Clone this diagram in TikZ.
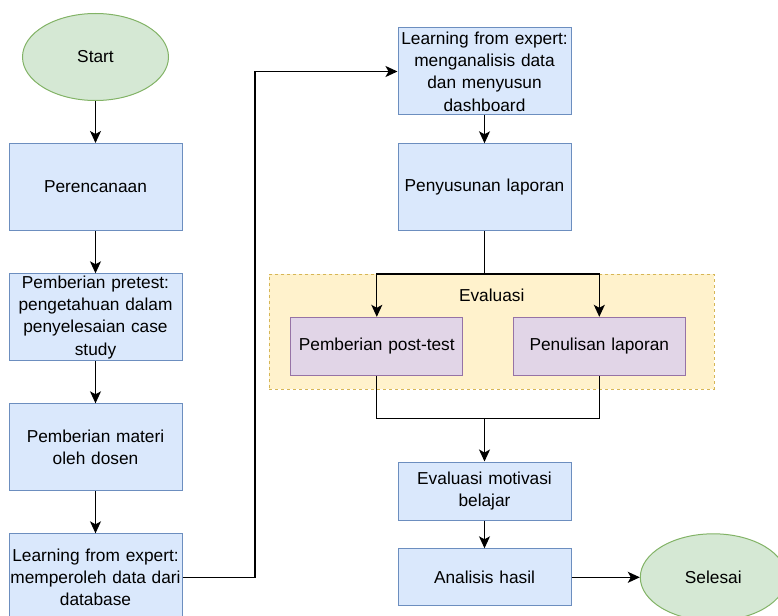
\documentclass[tikz,border=0pt]{standalone}
\usepackage{fontspec}
\setmainfont{Liberation Sans}
\usetikzlibrary{shapes.geometric,arrows.meta}
\definecolor{boxfill}{HTML}{DAE8FC}
\definecolor{boxline}{HTML}{6C8EBF}
\definecolor{termfill}{HTML}{D5E8D4}
\definecolor{termline}{HTML}{82B366}
\definecolor{subfill}{HTML}{E1D5E7}
\definecolor{subline}{HTML}{9673A6}
\definecolor{groupfill}{HTML}{FFF2CC}
\definecolor{groupline}{HTML}{D6B656}
\begin{document}
\begin{tikzpicture}[x=1pt,y=-1pt,
  font=\fontsize{17.3}{22.3}\selectfont,
  procbox/.style={draw=boxline, fill=boxfill, line width=1pt, minimum width=173pt, text width=173pt, align=center, inner sep=0pt},
  termbox/.style={ellipse, draw=termline, fill=termfill, line width=1pt, minimum width=146pt, minimum height=87pt, inner sep=0pt},
  subbox/.style={draw=subline, fill=subfill, line width=1pt, minimum width=172pt, minimum height=58pt, text width=172pt, align=center, inner sep=0pt},
  flow/.style={line width=1.2pt, -{Stealth[length=12pt, width=11pt, inset=3pt]}},
  plain/.style={line width=1.2pt}]
\useasboundingbox (0,0) rectangle (778,615);
\begin{scope}
\clip (0,0) rectangle (778,615);
% left column
\node[termbox] (start) at (95.5,57) {Start};
\node[procbox, minimum height=87pt] (plan) at (95.5,187) {Perencanaan};
\node[procbox, minimum height=87pt] (pretest) at (95.5,317.3) {Pemberian pretest:\\pengetahuan dalam\\penyelesaian case\\study};
\node[procbox, minimum height=87pt] (materi) at (95.5,447.3) {Pemberian materi\\oleh dosen};
\node[procbox, minimum height=87pt] (data) at (95.5,577.3) {Learning from expert:\\memperoleh data dari\\database};
% right column
\node[procbox, minimum height=87pt] (dash) at (484.5,71.5) {Learning from expert:\\menganalisis data\\dan menyusun\\dashboard};
\node[procbox, minimum height=87pt] (laporan) at (484.5,187.3) {Penyusunan laporan};
\node[draw=groupline, fill=groupfill, dashed, line width=1pt, minimum width=445pt, minimum height=115pt] (evalgroup) at (491.8,331.7) {};
\node (evaltitle) at (491.7,295) {Evaluasi};
\node[subbox] (posttest) at (376.8,346.3) {Pemberian post-test};
\node[subbox] (tulis) at (599.3,346.3) {Penulisan laporan};
\node[procbox, minimum height=58pt] (motivasi) at (484.5,491) {Evaluasi motivasi\\belajar};
\node[procbox, minimum height=57pt] (hasil) at (484.5,577.3) {Analisis hasil};
\node[termbox] (selesai) at (713.3,577.3) {Selesai};
% connectors
\coordinate (jog) at (255,71.5);
\coordinate (split) at (484.5,274);
\coordinate (merge) at (484.5,418.3);
\draw[flow] (start) -- (plan);
\draw[flow] (plan) -- (pretest);
\draw[flow] (pretest) -- (materi);
\draw[flow] (materi) -- (data);
\draw[flow] (data.east) -| (jog) -- (dash.west);
\draw[flow] (dash) -- (laporan);
\draw[plain] (laporan) -- (split);
\draw[flow] (split) -| (posttest);
\draw[flow] (split) -| (tulis);
\draw[plain] (posttest) |- (merge);
\draw[plain] (tulis) |- (merge);
\draw[flow] (merge) -- (motivasi);
\draw[flow] (motivasi) -- (hasil);
\draw[flow] (hasil) -- (selesai);
\end{scope}
\end{tikzpicture}
\end{document}
